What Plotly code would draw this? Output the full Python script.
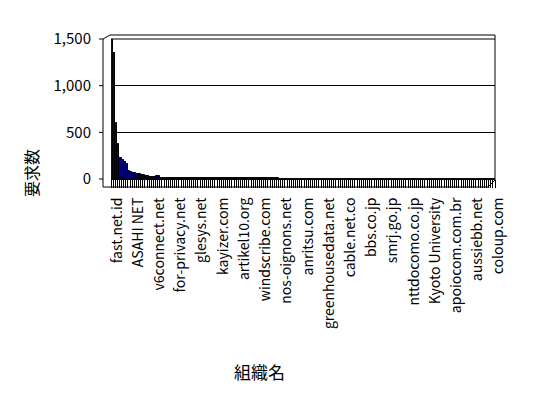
import plotly.graph_objects as go

# ---- data ----
requests = [
    1500, 1345, 605, 378, 224, 202, 181, 162, 87, 80,
    68, 60, 53, 50, 45, 40, 33, 27, 22, 22,
    22, 36, 34,
    15, 15, 14, 14, 14, 13, 13, 13, 13, 12,
    12, 12, 12, 12, 11, 11, 11, 11, 11, 11,
    10, 10, 10, 10, 10, 10, 10, 10, 9, 9,
    9, 9, 9, 9, 9, 9, 9, 9, 9, 8,
    8, 8, 8, 8, 8, 8, 8, 8, 8, 8,
    8, 8, 8, 8, 8, 8,
    5, 5, 5, 5, 5, 5, 5, 5, 5, 5,
    4, 4, 4, 4, 4, 4, 4, 4, 4, 4,
    4, 4, 4, 4, 4,
    3, 3, 3, 3, 3, 3, 3, 3, 3, 3,
    3, 3, 3, 3, 3, 3, 3, 3, 3, 3,
    2, 2, 2, 2, 2, 2, 2, 2, 2, 2,
    2, 2, 2, 2, 2, 2, 2, 2, 2, 2,
    2, 2, 2, 2, 2, 2, 2,
    1, 1, 1, 1, 1, 1, 1, 1, 1, 1,
    1, 1, 1, 1, 1, 1, 1, 1, 1, 1,
    1, 1, 1, 1, 1, 1, 1, 1, 1, 1,
]
tick_labels = [
    "fast.net.id", "ASAHI NET", "v6connect.net", "for-privacy.net", "glesys.net",
    "kayizer.com", "artikel10.org", "windscribe.com", "nos-oignons.net", "anritsu.com",
    "greenhousedata.net", "cable.net.co", "bbs.co.jp", "smrj.go.jp", "nttdocomo.co.jp",
    "Kyoto University", "apoiocom.com.br", "aussiebb.net", "coloup.com",
]
label_step = 10
y_ticks = [0, 500, 1000, 1500]
y_tick_text = ["0", "500", "1,000", "1,500"]
x_title = "組織名"
y_title = "要求数"

FONT = "Noto Sans CJK JP, Noto Sans, sans-serif"

n = len(requests)
xs = list(range(n))
tickvals = [i * label_step for i in range(len(tick_labels))]

fig = go.Figure(
    go.Bar(
        x=xs,
        y=requests,
        marker=dict(color="#000080", line=dict(color="black", width=1)),
        hoverinfo="x+y",
    )
)

# layout geometry (pixels -> paper)
W, H = 548, 398
L, R, T, B = 111, 495, 39, 179
pw, ph = R - L, B - T


def px(xp):
    return (xp - L) / pw


def py(yp):
    return (B - yp) / ph


def seg(x0, y0, x1, y1):
    return dict(type="line", xref="paper", yref="paper", layer="above",
                x0=px(x0), y0=py(y0), x1=px(x1), y1=py(y1),
                line=dict(color="black", width=1))


shapes = [
    seg(103, 187, 103, 39),    # front-left axis line
    seg(103, 39, 110, 35),     # top-left depth edge
    seg(110, 35, 495, 35),     # back top edge
    seg(495, 35, 495, 180),    # right edge
    seg(103, 187, 488, 187),   # floor front edge
    seg(488, 187, 495, 180),   # floor right depth edge
    seg(111, 39, 495, 39),     # top gridline (1500)
]
for v in y_ticks:
    yy = B - v / 1500 * ph
    shapes.append(seg(99, yy, 103, yy))

fig.update_layout(
    width=W,
    height=H,
    margin=dict(l=L, r=W - R, t=T, b=H - B, pad=0),
    paper_bgcolor="white",
    plot_bgcolor="white",
    showlegend=False,
    bargap=0,
    font=dict(family=FONT, color="black", size=14),
    shapes=shapes,
    annotations=[
        dict(text=y_title, xref="paper", yref="paper", x=px(31), y=py(173), textangle=-90,
             showarrow=False, font=dict(size=16, family=FONT), xanchor="center", yanchor="middle"),
        dict(text=x_title, xref="paper", yref="paper", x=px(259), y=py(371),
             showarrow=False, font=dict(size=17, family=FONT), xanchor="center", yanchor="middle"),
    ],
)

fig.update_xaxes(
    range=[-0.5, n - 0.5],
    tickmode="array",
    tickvals=tickvals,
    ticktext=tick_labels,
    tickangle=-90,
    ticks="",
    ticklabelstandoff=12,
    ticklabelshift=5,
    tickfont=dict(size=14, family=FONT),
    showline=True,
    linecolor="black",
    linewidth=1,
    showgrid=False,
    zeroline=False,
    minor=dict(tickmode="linear", tick0=-0.5, dtick=1, ticks="outside", ticklen=8,
               tickcolor="black", tickwidth=1, showgrid=False),
)

fig.update_yaxes(
    range=[0, 1500],
    tickmode="array",
    tickvals=y_ticks,
    ticktext=y_tick_text,
    ticks="",
    ticklabelstandoff=19,
    tickfont=dict(size=15, family=FONT),
    showgrid=True,
    gridcolor="black",
    gridwidth=1,
    showline=False,
    zeroline=False,
)

fig.write_html("out.html", config={"displayModeBar": False})

# remove the browser's default page margin so the figure sits at (0, 0)
with open("out.html", encoding="utf-8") as f:
    html = f.read()
html = html.replace("<head>", "<head><style>html,body{margin:0;padding:0;}</style>", 1)
with open("out.html", "w", encoding="utf-8") as f:
    f.write(html)
